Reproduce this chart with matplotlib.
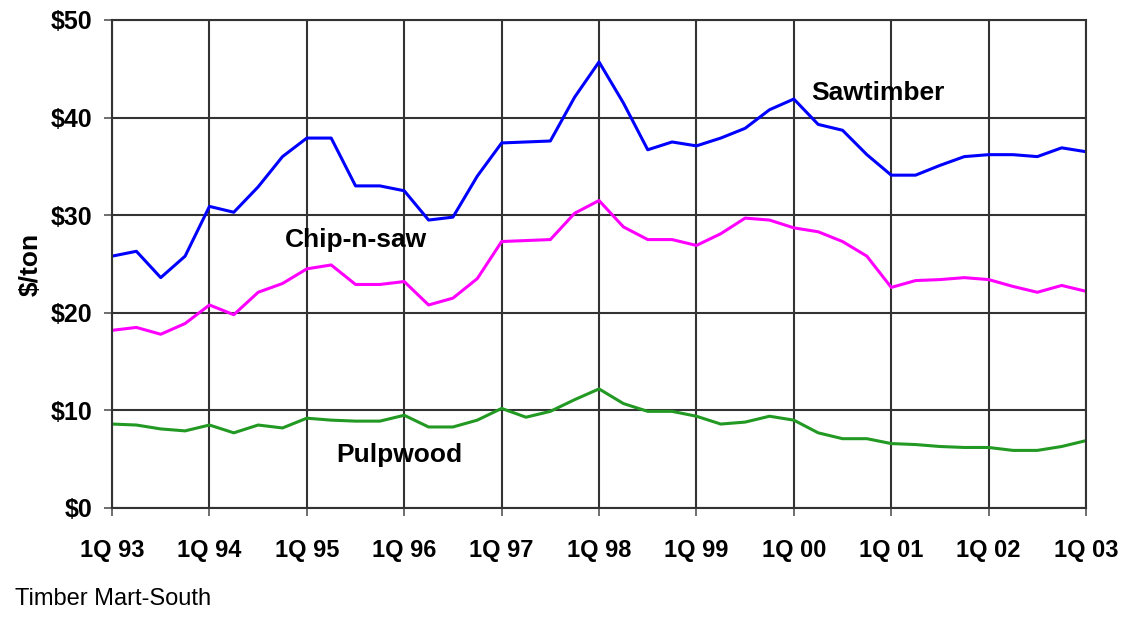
import numpy as np
import matplotlib.pyplot as plt

plt.rcParams['font.family'] = ['Liberation Sans', 'DejaVu Sans']

# quarterly prices, 1Q 93 .. 1Q 03 ($/ton)
years = ['93', '94', '95', '96', '97', '98', '99', '00', '01', '02', '03']
sawtimber = [25.8, 26.3, 23.6, 25.8, 30.9, 30.3, 32.9, 36.0, 37.9, 37.9,
             33.0, 33.0, 32.5, 29.5, 29.8, 34.0, 37.4, 37.5, 37.6, 42.1,
             45.7, 41.5, 36.7, 37.5, 37.1, 37.9, 38.9, 40.8, 41.9, 39.3,
             38.7, 36.2, 34.1, 34.1, 35.1, 36.0, 36.2, 36.2, 36.0, 36.9,
             36.5]
chip_n_saw = [18.2, 18.5, 17.8, 18.9, 20.8, 19.8, 22.1, 23.0, 24.5, 24.9,
              22.9, 22.9, 23.2, 20.8, 21.5, 23.5, 27.3, 27.4, 27.5, 30.2,
              31.5, 28.8, 27.5, 27.5, 26.9, 28.1, 29.7, 29.5, 28.7, 28.3,
              27.3, 25.8, 22.6, 23.3, 23.4, 23.6, 23.4, 22.7, 22.1, 22.8,
              22.2]
pulpwood = [8.6, 8.5, 8.1, 7.9, 8.5, 7.7, 8.5, 8.2, 9.2, 9.0,
            8.9, 8.9, 9.5, 8.3, 8.3, 9.0, 10.2, 9.3, 9.9, 11.1,
            12.2, 10.7, 9.9, 9.9, 9.4, 8.6, 8.8, 9.4, 9.0, 7.7,
            7.1, 7.1, 6.6, 6.5, 6.3, 6.2, 6.2, 5.9, 5.9, 6.3,
            6.9]

x = np.arange(len(sawtimber))

fig = plt.figure(figsize=(11.34, 6.22), dpi=100)
ax = fig.add_axes([0.0988, 0.1833, 0.8589, 0.7846])

ax.plot(x, sawtimber, color='#0000ff', lw=2.2)
ax.plot(x, chip_n_saw, color='#ff00ff', lw=2.2)
ax.plot(x, pulpwood, color='#229922', lw=2.2)

ax.set_xlim(0, 40)
ax.set_ylim(0, 50)
ax.set_xticks(np.arange(0, 41, 4))
ax.set_xticklabels(['1Q ' + y for y in years])
ax.set_yticks(np.arange(0, 51, 10))
ax.set_yticklabels(['$%d' % v for v in range(0, 51, 10)])
ax.tick_params(axis='x', length=6, width=1.2, color='#555555', pad=16,
               labelsize=17)
ax.tick_params(axis='y', length=6, width=1.2, color='#555555', pad=8,
               labelsize=18)
for lab in ax.get_xticklabels() + ax.get_yticklabels():
    lab.set_fontweight('bold')

ax.grid(True, color='#333333', lw=1.5)
ax.set_axisbelow(True)
for s in ax.spines.values():
    s.set_color('#333333')
    s.set_linewidth(1.5)

ax.set_ylabel('$/ton', fontsize=19, fontweight='bold', labelpad=6)

# series labels
ax.text(28.7, 42.5, 'Sawtimber', fontsize=19, fontweight='bold', va='center')
ax.text(7.1, 27.5, 'Chip-n-saw', fontsize=19, fontweight='bold', va='center')
ax.text(9.2, 5.4, 'Pulpwood', fontsize=19, fontweight='bold', va='center')

fig.text(0.013, 0.027, 'Timber Mart-South', fontsize=17)

plt.savefig('out.png', dpi=100)
